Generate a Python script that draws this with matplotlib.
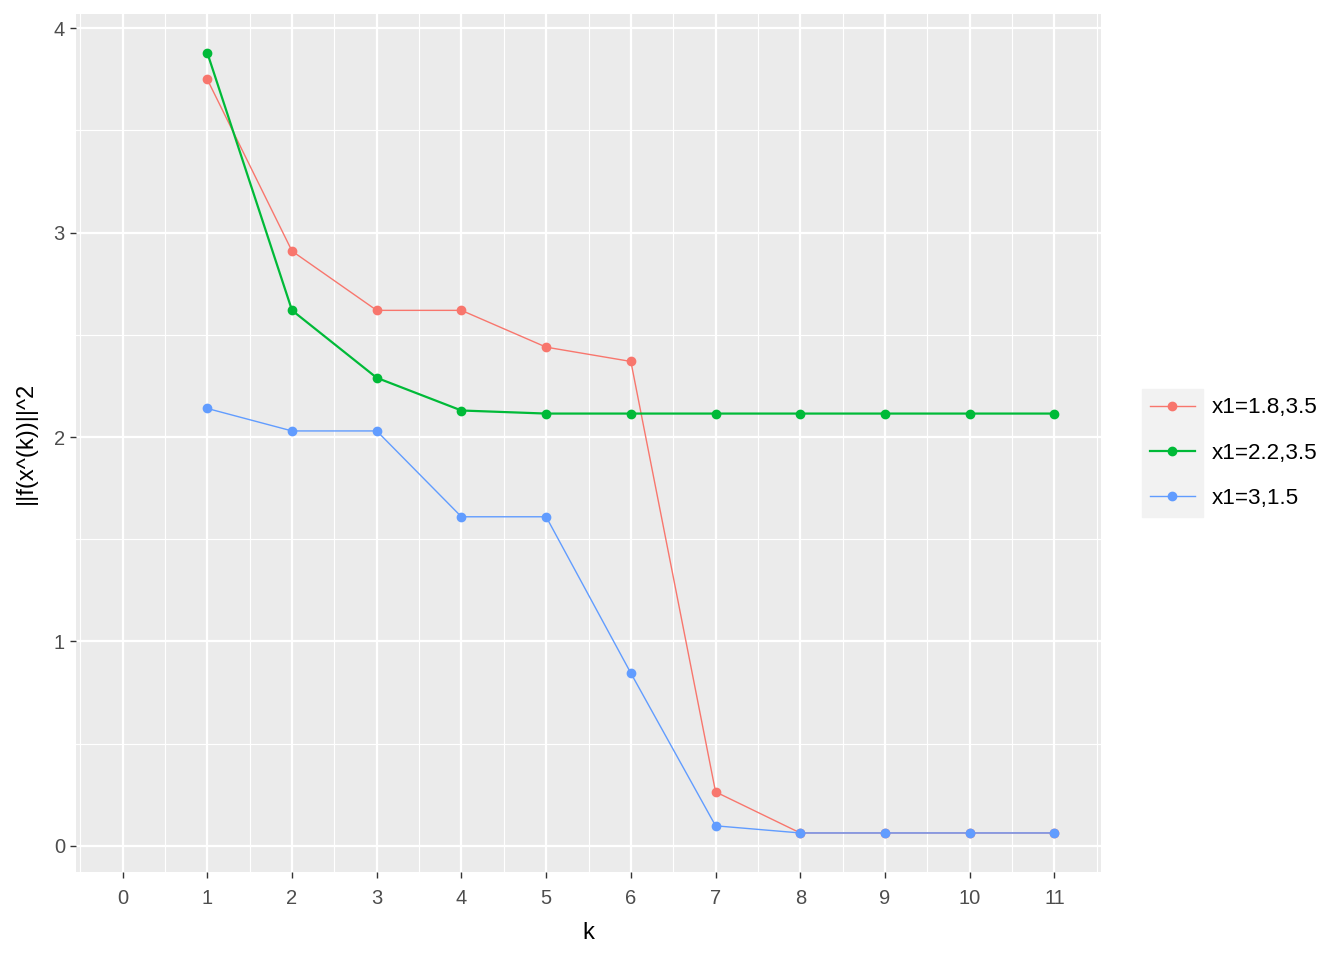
import matplotlib.pyplot as plt
import numpy as np

k = [1, 2, 3, 4, 5, 6, 7, 8, 9, 10, 11]
red = [3.75, 2.91, 2.62, 2.62, 2.44, 2.37, 0.264, 0.063, 0.063, 0.063, 0.063]
green = [3.88, 2.62, 2.29, 2.13, 2.115, 2.115, 2.115, 2.115, 2.115, 2.115, 2.115]
blue = [2.14, 2.03, 2.03, 1.61, 1.61, 0.845, 0.098, 0.063, 0.063, 0.063, 0.063]
labels = ['x1=1.8,3.5', 'x1=2.2,3.5', 'x1=3,1.5']
colors = ['#F8766D', '#00BA38', '#619CFF']

xticks = list(range(0, 12))
yticks = [0, 1, 2, 3, 4]

plt.rcParams['font.family'] = ['Liberation Sans', 'DejaVu Sans']

fig = plt.figure(figsize=(13.44, 9.6), dpi=100)
ax = fig.add_axes([76 / 1344, 1 - 872 / 960, (1101 - 76) / 1344, (872 - 14) / 960])
ax.set_facecolor('#EBEBEB')

for sp in ax.spines.values():
    sp.set_visible(False)

ax.set_xlim(-0.55, 11.55)
ax.set_ylim(-0.128, 4.07)

ax.set_xticks(xticks)
ax.set_yticks(yticks)
ax.set_xticks(np.arange(-0.5, 12, 1), minor=True)
ax.set_yticks(np.arange(0.5, 4, 1), minor=True)
ax.grid(which='major', color='white', linewidth=1.6)
ax.grid(which='minor', color='white', linewidth=0.8)
ax.set_axisbelow(True)
ax.tick_params(which='major', length=4, color='#333333', labelsize=14.5,
               labelcolor='#4D4D4D', width=1, pad=4)
ax.tick_params(axis='x', which='major', pad=8)
ax.tick_params(which='minor', length=0)

for ys, c, lab in zip([red, green, blue], colors, labels):
    lw = 1.6 if c == '#00BA38' else 1.0
    ax.plot(k, ys, color=c, linewidth=lw, marker='o', markersize=6, label=lab)

ax.set_xlabel('k', fontsize=17, color='black', labelpad=10)
ax.set_ylabel('||f(x^(k))||^2', fontsize=17, color='black', labelpad=12)

leg = ax.legend(loc='center left', bbox_to_anchor=(1.028, 0.488), frameon=False,
                fontsize=16.2, handlelength=2.0, labelspacing=1.08, handletextpad=0.75)
fig.canvas.draw()
bb = leg.get_window_extent()
# grey key background like ggplot
hb = [h.get_window_extent() for h in leg.legend_handles]
x0 = min(b.x0 for b in hb) - 4
x1 = max(b.x1 for b in hb) + 4
y0 = bb.y0 + 1
y1 = bb.y1 - 1
fig.patches.append(plt.Rectangle((x0 / 1344, y0 / 960), (x1 - x0) / 1344, (y1 - y0) / 960,
                                 transform=fig.transFigure, color='#F2F2F2', zorder=-1))

fig.savefig('out.png', dpi=100)
